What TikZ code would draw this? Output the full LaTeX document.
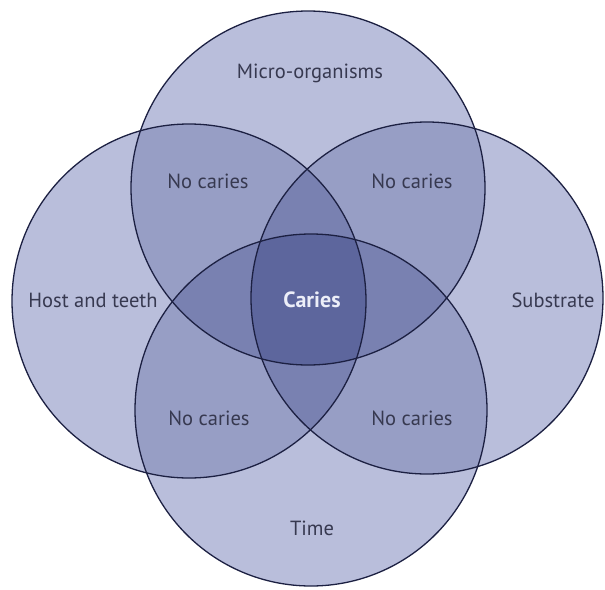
\documentclass[tikz,border=0pt]{standalone}
\usepackage{fontspec}
\setmainfont{PT Sans}
\definecolor{cOne}{RGB}{185,190,219}
\definecolor{cTwo}{RGB}{151,158,197}
\definecolor{cThree}{RGB}{121,129,177}
\definecolor{cFour}{RGB}{93,102,157}
\definecolor{cLine}{RGB}{28,32,66}
\definecolor{cText}{RGB}{55,57,80}
\definecolor{cWhite}{RGB}{236,238,248}
\begin{document}
\begin{tikzpicture}[x=1pt,y=-1pt,
  outline/.style={draw=cLine,line width=1.3pt},
  lbl/.style={text=cText,font=\fontsize{20.5}{24}\selectfont,inner sep=0pt},
  center/.style={text=cWhite,font=\fontsize{22}{26}\selectfont\bfseries,inner sep=0pt}]
\useasboundingbox (0,0) rectangle (605,589);
\def\circT{(308,188) circle[radius=177pt]}
\def\circL{(189,301) circle[radius=177pt]}
\def\circR{(427,298) circle[radius=176pt]}
\def\circB{(311,410) circle[radius=176pt]}
% single
\fill[cOne] \circT; \fill[cOne] \circL; \fill[cOne] \circR; \fill[cOne] \circB;
% pairs
\begin{scope}\clip \circT; \fill[cTwo] \circL; \fill[cTwo] \circR; \fill[cTwo] \circB; \end{scope}
\begin{scope}\clip \circL; \fill[cTwo] \circR; \fill[cTwo] \circB; \end{scope}
\begin{scope}\clip \circR; \fill[cTwo] \circB; \end{scope}
% triples
\begin{scope}\clip \circT; \clip \circL; \fill[cThree] \circR; \fill[cThree] \circB; \end{scope}
\begin{scope}\clip \circT; \clip \circR; \fill[cThree] \circB; \end{scope}
\begin{scope}\clip \circL; \clip \circR; \fill[cThree] \circB; \end{scope}
% quad
\begin{scope}\clip \circT; \clip \circL; \clip \circR; \fill[cFour] \circB; \end{scope}
% outlines
\draw[outline] \circT; \draw[outline] \circL; \draw[outline] \circR; \draw[outline] \circB;
% labels
\node[lbl] (micro) at (310,73) {Micro-organisms};
\node[lbl] (host) at (93,300) {Host and teeth};
\node[lbl] (subs) at (553,300) {Substrate};
\node[lbl] (time) at (312,528) {Time};
\node[lbl] (nc1) at (208,181) {No caries};
\node[lbl] (nc2) at (412,181) {No caries};
\node[lbl] (nc3) at (209,418) {No caries};
\node[lbl] (nc4) at (412,418) {No caries};
\node[center] (caries) at (312,300) {Caries};
\end{tikzpicture}
\end{document}
